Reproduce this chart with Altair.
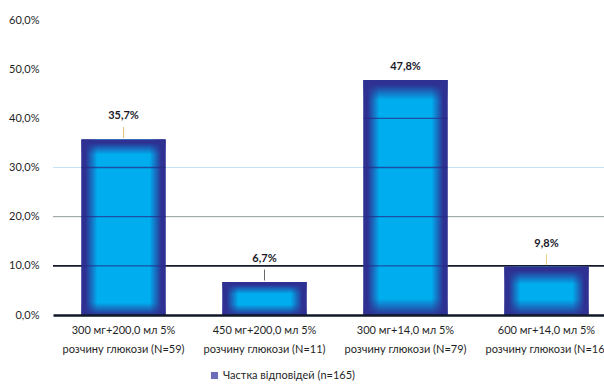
import altair as alt
import pandas as pd

# ---- data ----
categories = [
    "300 мг+200,0 мл 5%|розчину глюкози (N=59)",
    "450 мг+200,0 мл 5%|розчину глюкози (N=11)",
    "300 мг+14,0 мл 5%|розчину глюкози (N=79)",
    "600 мг+14,0 мл 5%|розчину глюкози (N=16)",
]
values = [35.7, 6.7, 47.8, 9.8]
series_name = "Частка відповідей (n=165)"
y_ticks = [0, 10, 20, 30, 40, 50, 60]
inner_levels = [10, 20, 30, 40, 50]

# ---- styles ----
NAVY = "#2E3192"
CYAN = "#00AEEF"
FONT = "Lato"
grid_levels = [10, 20, 30]
grid_colors = ["#141a2c", "#8f9c9c", "#c4e4f3"]
grid_widths = [1.6, 1.0, 1.0]
leader_colors = ["#d6b13c", "#2a2a2a", "rgba(0,0,0,0)", "#e0c04a"]
has_leader = [True, True, False, True]

bars = pd.DataFrame({
    "cat": categories,
    "value": values,
    "series": [series_name] * len(categories),
    "leader": leader_colors,
    "lead": has_leader,
})
grid = pd.DataFrame({"level": grid_levels, "gcolor": grid_colors, "gw": grid_widths})
inner = pd.DataFrame(
    [{"cat": c, "value": lv} for c, v in zip(categories, values) for lv in inner_levels if lv < v]
)

x_scale = alt.Scale(domain=categories, range=[0, 564], paddingInner=0.404, paddingOuter=0.202)
y_scale = alt.Scale(domain=[0, 60], nice=False)

x_enc = alt.X(
    "cat:N", sort=categories, scale=x_scale, title=None,
    axis=alt.Axis(
        labelExpr="split(datum.label, '|')", labelAngle=0, labelFont=FONT,
        labelFontSize=11, labelColor="#1f1f1f", labelPadding=9, labelLineHeight=19,
        ticks=False, domainColor="#0f1828", domainWidth=2.5, labelOverlap=False,
        labelBound=False, zindex=1,
    ),
)
y_enc = alt.Y(
    "value:Q", scale=y_scale, title=None,
    axis=alt.Axis(
        values=y_ticks, labelExpr="replace(format(datum.value, '.1f'), '.', ',') + '%'",
        grid=False, ticks=False, domain=False, labelPadding=14, labelFont=FONT,
        labelFontSize=11, labelColor="#1f1f1f",
    ),
)

grid_layer = alt.Chart(grid).mark_rule().encode(
    y=alt.Y("level:Q", scale=y_scale, title=None),
    color=alt.Color("gcolor:N", scale=None),
    strokeWidth=alt.StrokeWidth("gw:Q", scale=None),
)

base = alt.Chart(bars)

base_bar = base.mark_bar().encode(
    x=x_enc, y=y_enc,
    color=alt.Color(
        "series:N", scale=alt.Scale(range=["#30309a"]),
        legend=alt.Legend(
            title=None, orient="none", legendX=156, legendY=350, symbolType="square",
            symbolSize=50, symbolStrokeWidth=0, labelFont=FONT, labelFontSize=11,
            labelColor="#1f1f1f", labelOffset=3,
        ),
    ),
)

grad_h = alt.LinearGradient(
    gradient="linear", x1=0, x2=1, y1=0, y2=0,
    stops=[
        alt.GradientStop(color=NAVY, offset=0),
        alt.GradientStop(color=NAVY, offset=0.05),
        alt.GradientStop(color=CYAN, offset=0.19),
        alt.GradientStop(color=CYAN, offset=0.81),
        alt.GradientStop(color=NAVY, offset=0.95),
        alt.GradientStop(color=NAVY, offset=1),
    ],
)
clear = "rgba(46,49,146,0)"
grad_v_tall = alt.LinearGradient(
    gradient="linear", x1=0, x2=0, y1=0, y2=1,
    stops=[
        alt.GradientStop(color=NAVY, offset=0),
        alt.GradientStop(color=NAVY, offset=0.02),
        alt.GradientStop(color=clear, offset=0.085),
        alt.GradientStop(color=clear, offset=0.93),
        alt.GradientStop(color=NAVY, offset=1),
    ],
)
grad_v_short = alt.LinearGradient(
    gradient="linear", x1=0, x2=0, y1=0, y2=1,
    stops=[
        alt.GradientStop(color=NAVY, offset=0),
        alt.GradientStop(color=NAVY, offset=0.08),
        alt.GradientStop(color=clear, offset=0.36),
        alt.GradientStop(color=clear, offset=0.68),
        alt.GradientStop(color=NAVY, offset=1),
    ],
)

bar_h = base.mark_bar(color=grad_h).encode(x=x_enc, y=y_enc)
bar_v_tall = base.transform_filter("datum.value > 20").mark_bar(color=grad_v_tall).encode(x=x_enc, y=y_enc)
bar_v_short = base.transform_filter("datum.value <= 20").mark_bar(color=grad_v_short).encode(x=x_enc, y=y_enc)

inner_layer = alt.Chart(inner).mark_tick(
    orient="horizontal", size=84, thickness=1.4, color="#272a85"
).encode(x=x_enc, y=y_enc)

leaders = base.transform_filter("datum.lead").mark_tick(
    orient="vertical", size=11, thickness=1, yOffset=-7
).encode(x=x_enc, y=y_enc, color=alt.Color("leader:N", scale=None))

lab_expr = "replace(format(datum.value, '.1f'), '.', ',') + '%'"
text_lead = base.transform_filter("datum.lead").transform_calculate(lab=lab_expr).mark_text(
    font=FONT, fontWeight="bold", fontSize=11, color="#1a1a2a", baseline="middle", dy=-23
).encode(x=x_enc, y=y_enc, text="lab:N")
text_plain = base.transform_filter("!datum.lead").transform_calculate(lab=lab_expr).mark_text(
    font=FONT, fontWeight="bold", fontSize=11, color="#1a1a2a", baseline="middle", dy=-13
).encode(x=x_enc, y=y_enc, text="lab:N")

chart = alt.layer(
    grid_layer, base_bar, bar_h, bar_v_tall, bar_v_short, inner_layer, leaders, text_lead, text_plain
).properties(
    width=551, height=295, autosize="none",
    padding={"left": 53, "top": 20, "right": 0, "bottom": 73},
    background="white",
).configure_view(stroke=None)

chart.save("out.html", embed_options={"renderer": "svg", "actions": False})
